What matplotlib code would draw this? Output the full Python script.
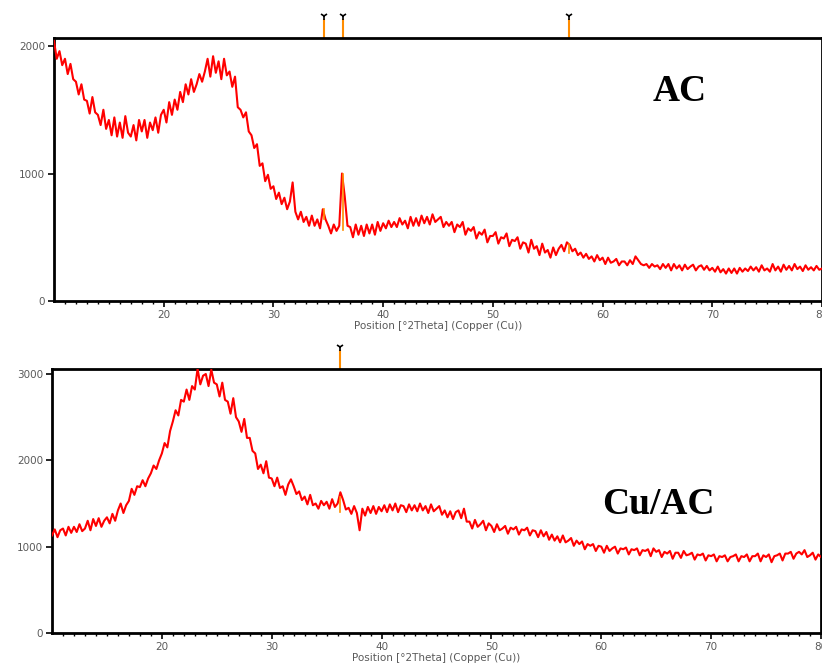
import numpy as np
import matplotlib.pyplot as plt

# 2theta grid, 0.25 deg step from 10 to 80
two_theta = np.arange(10, 80.001, 0.25)

# AC intensities (counts), four readings per degree
ac_counts = [
    2040, 1900, 1960, 1850,  1900, 1780, 1860, 1740,  1720, 1620, 1700, 1580,
    1570, 1470, 1600, 1480,  1460, 1380, 1500, 1350,  1420, 1300, 1440, 1290,
    1400, 1280, 1450, 1320,  1290, 1380, 1260, 1420,  1330, 1420, 1280, 1400,
    1340, 1440, 1320, 1460,  1500, 1400, 1560, 1460,  1580, 1500, 1640, 1560,
    1700, 1620, 1740, 1640,  1700, 1780, 1720, 1800,  1900, 1760, 1920, 1790,
    1880, 1740, 1900, 1770,  1800, 1680, 1760, 1520,  1500, 1440, 1480, 1330,
    1300, 1200, 1230, 1060,  1080, 940, 990, 880,     900, 800, 850, 760,
    810, 720, 780, 930,      700, 640, 700, 620,      660, 590, 670, 590,
    640, 570, 720, 640,      590, 530, 600, 550,      590, 1000, 820, 590,
    580, 500, 600, 520,      590, 510, 600, 530,      600, 520, 620, 550,
    610, 570, 630, 580,      620, 580, 650, 600,      630, 570, 660, 590,
    650, 590, 670, 610,      660, 600, 680, 620,      640, 660, 580, 620,
    590, 620, 540, 600,      580, 620, 520, 570,      550, 580, 490, 540,
    520, 560, 460, 510,      510, 540, 450, 500,      490, 530, 430, 480,
    470, 500, 410, 460,      450, 380, 480, 410,      430, 360, 450, 380,
    400, 340, 420, 360,      410, 440, 390, 460,      440, 390, 410, 360,
    380, 340, 370, 330,      350, 310, 360, 320,      340, 290, 340, 300,
    310, 330, 280, 310,      310, 280, 320, 290,      350, 320, 290, 280,
    290, 260, 290, 270,      280, 250, 290, 260,      290, 240, 290, 255,
    280, 240, 285, 250,      270, 285, 240, 270,      280, 245, 275, 240,
    260, 230, 270, 225,      250, 215, 255, 220,      255, 215, 260, 230,
    255, 235, 270, 240,      265, 230, 280, 240,      255, 230, 290, 240,
    270, 230, 285, 245,      275, 240, 290, 250,      270, 235, 280, 245,
    265, 240, 275, 245,      255,
]

# Cu/AC intensities (counts)
cuac_counts = [
    1130, 1200, 1110, 1190,  1210, 1130, 1230, 1160,  1230, 1170, 1260, 1180,
    1210, 1300, 1190, 1320,  1240, 1330, 1230, 1300,  1340, 1270, 1380, 1300,
    1420, 1500, 1390, 1480,  1530, 1670, 1600, 1700,  1690, 1770, 1700, 1790,
    1850, 1940, 1900, 2000,  2080, 2200, 2150, 2340,  2450, 2580, 2520, 2700,
    2680, 2820, 2700, 2860,  2820, 3060, 2880, 2980,  3000, 2860, 3050, 2900,
    2880, 2740, 2900, 2700,  2680, 2540, 2720, 2500,  2450, 2330, 2480, 2260,
    2260, 2110, 2080, 1900,  1950, 1850, 1990, 1800,  1790, 1700, 1800, 1680,
    1700, 1600, 1720, 1780,  1700, 1610, 1640, 1540,  1580, 1490, 1600, 1480,
    1500, 1440, 1530, 1480,  1520, 1440, 1550, 1460,  1500, 1630, 1540, 1430,
    1450, 1380, 1470, 1390,  1190, 1440, 1360, 1460,  1390, 1470, 1380, 1460,
    1410, 1480, 1400, 1490,  1420, 1500, 1400, 1480,  1470, 1400, 1490, 1420,
    1480, 1410, 1500, 1420,  1470, 1390, 1490, 1410,  1440, 1470, 1370, 1420,
    1340, 1410, 1320, 1400,  1420, 1330, 1440, 1290,  1290, 1210, 1310, 1230,
    1260, 1300, 1190, 1270,  1240, 1170, 1260, 1190,  1210, 1240, 1150, 1220,
    1200, 1230, 1140, 1200,  1190, 1220, 1130, 1190,  1180, 1110, 1190, 1120,
    1170, 1080, 1140, 1070,  1120, 1050, 1130, 1050,  1070, 1100, 1010, 1070,
    1030, 1060, 970, 1030,   1010, 1030, 950, 1010,   1000, 930, 1010, 950,
    980, 1000, 920, 980,     970, 990, 910, 970,      960, 980, 900, 960,
    950, 970, 890, 980,      940, 960, 880, 940,      920, 950, 860, 930,
    930, 870, 950, 900,      910, 930, 850, 910,      900, 920, 840, 900,
    890, 910, 830, 890,      880, 900, 830, 880,      890, 910, 830, 890,
    880, 910, 830, 890,      890, 920, 830, 900,      880, 910, 820, 890,
    900, 920, 840, 920,      920, 940, 860, 920,      940, 910, 960, 880,
    900, 930, 850, 910,      880,
]

# reference peak markers: position, base and top of the in-plot stick
ac_peak_pos = [34.6, 36.3, 56.9]
ac_peak_base = [640, 560, 380]
ac_peak_top = [720, 1000, 450]
cuac_peak_pos = [36.2]
cuac_peak_base = [1400]
cuac_peak_top = [1580]

RED = '#ff0000'
ORANGE = '#ff8c00'
GRAY = '#5a5a5a'

fig = plt.figure(figsize=(8.22, 6.65), dpi=100)
ax1 = fig.add_axes([54 / 822, 364 / 665, 768 / 822, 263 / 665])
ax2 = fig.add_axes([52 / 822, 32 / 665, 769 / 822, 264 / 665])


def style_axis(ax, y, ymax, yticks, peaks, bases, tops, label, lx, ly):
    ax.plot(two_theta, y, color=RED, lw=1.5, zorder=3)
    for p, b, t in zip(peaks, bases, tops):
        ax.plot([p, p], [b, t], color=ORANGE, lw=1.2, zorder=4)
        # stick above the frame with a Y-shaped head
        tr = ax.get_xaxis_transform()
        ax.plot([p, p], [1.0, 1.07], color=ORANGE, lw=1.5, transform=tr,
                clip_on=False)
        ax.plot([p], [1.085], marker='1', ms=6, mew=1.2, color='black',
                transform=tr, clip_on=False)
    ax.set_xlim(10, 80)
    ax.set_ylim(0, ymax)
    ax.set_yticks(yticks)
    ax.set_xticks([20, 30, 40, 50, 60, 70, 80])
    ax.set_xticks(np.arange(11, 80, 1), minor=True)
    ax.tick_params(axis='both', which='major', direction='out', length=4,
                   width=1.2, labelsize=7.5, labelcolor=GRAY, pad=2.5)
    ax.tick_params(axis='x', which='minor', direction='out', length=2.5,
                   width=1.0)
    for s in ax.spines.values():
        s.set_linewidth(2.0)
    ax.set_xlabel('Position [°2Theta] (Copper (Cu))', fontsize=7.5,
                  color=GRAY, labelpad=1)
    ax.text(lx, ly, label, transform=ax.transAxes, ha='center', va='center',
            fontsize=27, fontweight='bold', family='Liberation Serif')


style_axis(ax1, ac_counts, 2063, [0, 1000, 2000], ac_peak_pos,
           ac_peak_base, ac_peak_top, 'AC', 0.815, 0.795)
style_axis(ax2, cuac_counts, 3058, [0, 1000, 2000, 3000], cuac_peak_pos,
           cuac_peak_base, cuac_peak_top, 'Cu/AC', 0.789, 0.485)

plt.savefig('out.png', dpi=100)
